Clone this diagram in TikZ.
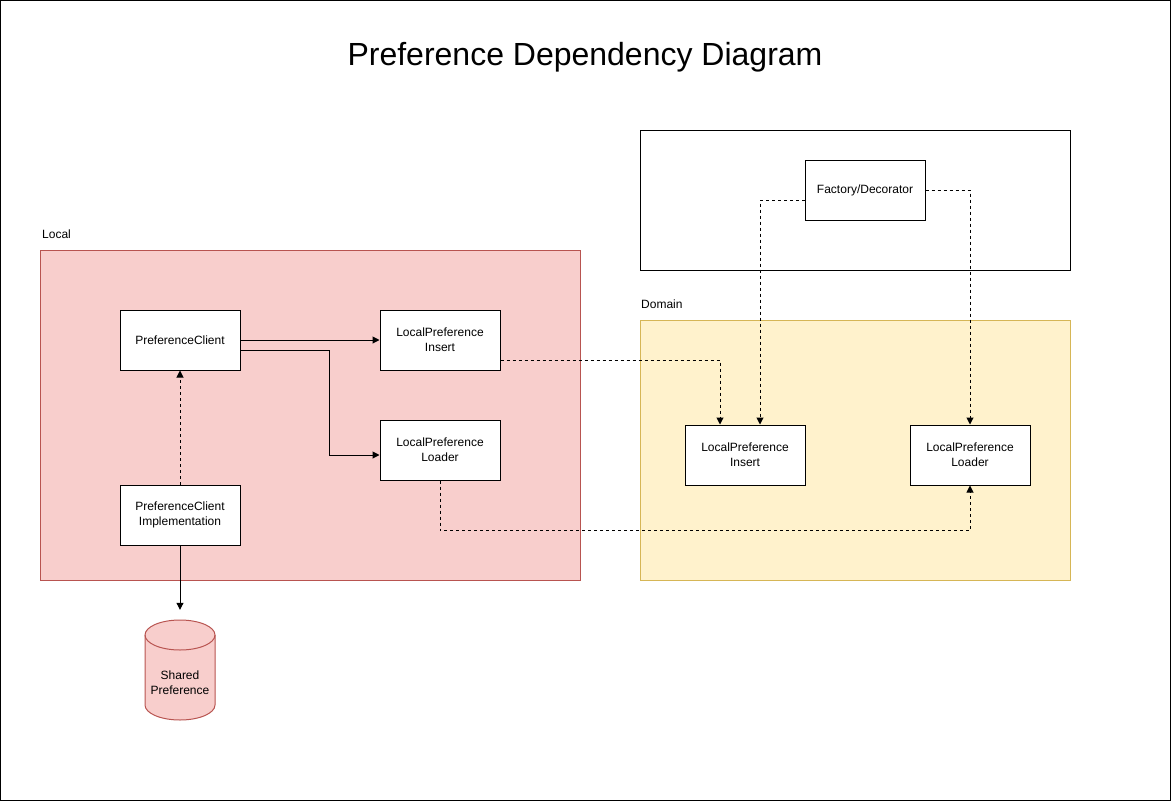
\documentclass[tikz,border=0pt]{standalone}
\usepackage{fontspec}
\setmainfont{Liberation Sans}
\usetikzlibrary{arrows.meta}
\definecolor{localfill}{HTML}{F8CECC}
\definecolor{localdraw}{HTML}{B85450}
\definecolor{domfill}{HTML}{FFF2CC}
\definecolor{domdraw}{HTML}{D6B656}
\tikzset{
  box/.style={draw=black, fill=white, line width=1pt, minimum width=120pt, minimum height=60pt, inner sep=0pt, align=center, font=\fontsize{12pt}{15pt}\selectfont},
  lbl/.style={anchor=west, inner sep=0pt, font=\fontsize{12pt}{15pt}\selectfont},
  conn/.style={line width=1pt, -{Triangle[length=7pt,width=7pt]}},
  dconn/.style={conn, dash pattern=on 3pt off 3pt},
}
\begin{document}
\begin{tikzpicture}[x=1pt,y=-1pt]
\useasboundingbox (0,0) rectangle (1171,801);
\draw[line width=1pt] (0.5,0.5) rectangle (1170.5,800.5);
\node[inner sep=0pt, font=\fontsize{32pt}{36pt}\selectfont] (title) at (585,57) {Preference Dependency Diagram};
% groups
\draw[line width=1pt] (640,130) rectangle (1070,270);
\node[lbl] (domlbl) at (641,304) {Domain};
\draw[line width=1pt, draw=domdraw, fill=domfill] (640,320) rectangle (1070,580);
\node[lbl] (loclbl) at (42,234) {Local};
\draw[line width=1pt, draw=localdraw, fill=localfill] (40,250) rectangle (580,580);
% nodes
\node[box] (fd) at (865,190) {Factory/Decorator};
\node[box] (pc) at (180,340) {PreferenceClient};
\node[box] (lpi) at (440,340) {LocalPreference\\Insert};
\node[box] (lpl) at (440,450) {LocalPreference\\Loader};
\node[box] (pci) at (180,515) {PreferenceClient\\Implementation};
\node[box] (dlpi) at (745,455) {LocalPreference\\Insert};
\node[box] (dlpl) at (970,455) {LocalPreference\\Loader};
% cylinder
\draw[line width=1pt, draw=localdraw, fill=localfill]
  (145,635) -- (145,705) arc[start angle=180, end angle=360, x radius=35pt, y radius=15pt]
  -- (215,635) arc[start angle=0, end angle=180, x radius=35pt, y radius=15pt] -- cycle;
\draw[line width=1pt, draw=localdraw]
  (145,635) arc[start angle=180, end angle=360, x radius=35pt, y radius=15pt];
\node[inner sep=0pt, minimum width=70pt, minimum height=100pt,
  label={[name=sptext, yshift=-13pt, align=center, font=\fontsize{12pt}{15pt}\selectfont]center:{Shared\\Preference}}] (sp) at (180,670) {};
% connectors
\draw[conn] (pc.east) -- (lpi.west);
\draw[conn] ([yshift=-10pt]pc.east) -| ([xshift=-50pt,yshift=-5pt]lpl.west) -- ([yshift=-5pt]lpl.west);
\draw[dconn] (pci.north) -- (pc.south);
\draw[conn] (pci.south) -- ([yshift=10pt]sp.north);
\draw[dconn] ([yshift=-20pt]lpi.east) -| ([xshift=-25pt]dlpi.north);
\draw[dconn] (lpl.south) |- ([yshift=-45pt]dlpl.south) -- (dlpl.south);
\draw[dconn] ([yshift=-10pt]fd.west) -| ([xshift=15pt]dlpi.north);
\draw[dconn] (fd.east) -| (dlpl.north);
\end{tikzpicture}
\end{document}
